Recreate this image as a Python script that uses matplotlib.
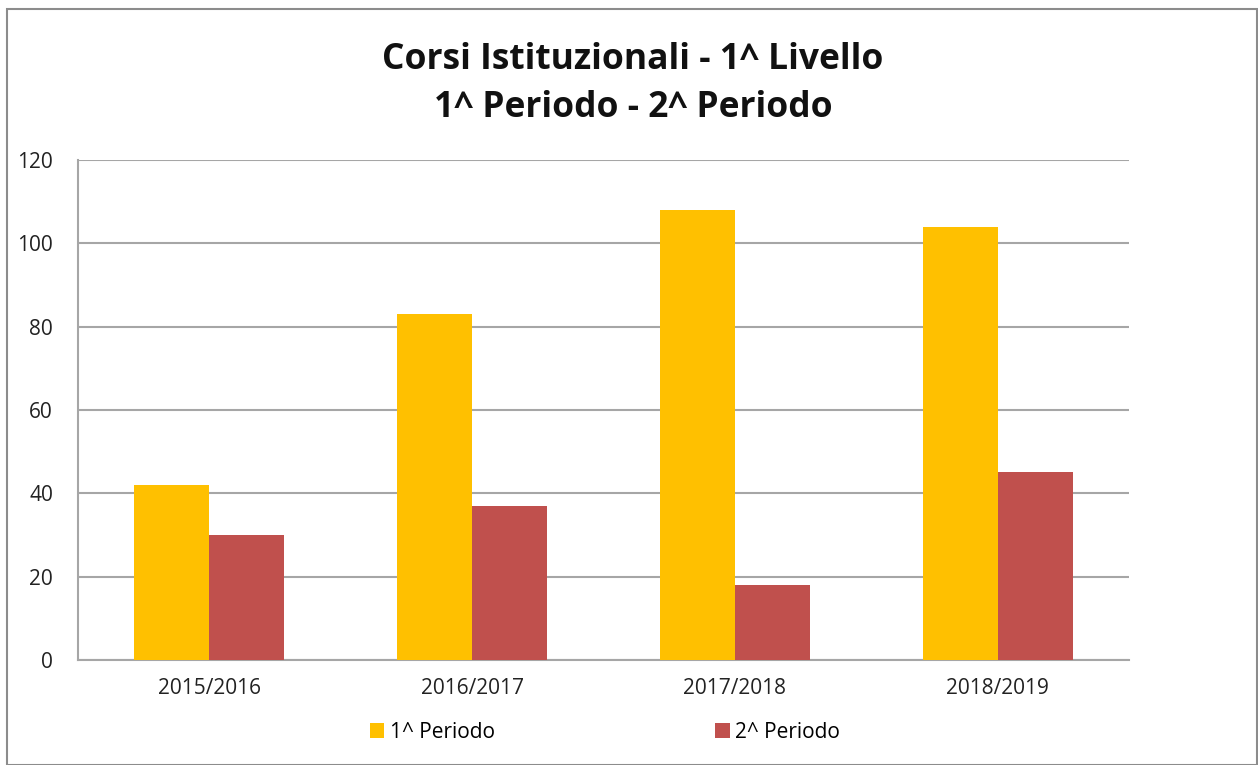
import matplotlib
matplotlib.use("Agg")
import matplotlib.pyplot as plt
from matplotlib.patches import Rectangle
import numpy as np

categories = ["2015/2016", "2016/2017", "2017/2018", "2018/2019"]
periodo1 = [42, 83, 108, 104]
periodo2 = [30, 37, 18, 45]
series_names = ["1^ Periodo", "2^ Periodo"]
yticks = [0, 20, 40, 60, 80, 100, 120]

plt.rcParams['font.family'] = ['Open Sans', 'DejaVu Sans']

fig = plt.figure(figsize=(12.58, 7.65), dpi=100)
fig.patches.append(Rectangle((7/1258, 0), 1250/1258, 1 - 9/765, transform=fig.transFigure,
                             fill=False, edgecolor='#8c8c8c', linewidth=1.5))
ax = fig.add_axes([78/1258, 105/765, 1051/1258, 500/765])

x = np.arange(len(categories))
w = 75/262.75
ax.bar(x - w/2, periodo1, width=w, color='#FFC000', label=series_names[0], zorder=3)
ax.bar(x + w/2, periodo2, width=w, color='#C0504D', label=series_names[1], zorder=3)

ax.set_xlim(-0.5, len(categories) - 0.5)
ax.set_ylim(0, 120)
ax.set_yticks(yticks)
ax.set_xticks(x)
ax.set_xticklabels(categories)
ax.tick_params(axis='both', length=0, labelsize=15, colors='#222222')
ax.tick_params(axis='y', pad=18)
ax.tick_params(axis='x', pad=13)
ax.grid(axis='y', color='#a6a6a6', linewidth=1.5, zorder=0)
for s in ['top', 'right']:
    ax.spines[s].set_visible(False)
ax.spines['left'].set_color('#a6a6a6')
ax.spines['left'].set_linewidth(1.5)
ax.spines['bottom'].set_color('#a6a6a6')
ax.spines['bottom'].set_linewidth(1.5)

fig.text(633/1258, 1 - 84/765, "Corsi Istituzionali - 1^ Livello\n1^ Periodo - 2^ Periodo",
         ha='center', va='center', fontsize=25.5, fontweight='bold', linespacing=1.45, color='#111111')

leg = fig.legend(loc='center', bbox_to_anchor=(605/1258, 1 - 732/765), ncol=2, frameon=False,
                 fontsize=15, handlelength=0.7, handleheight=0.7, handletextpad=0.25,
                 columnspacing=10.6)
fig.savefig("out.png", dpi=100)
